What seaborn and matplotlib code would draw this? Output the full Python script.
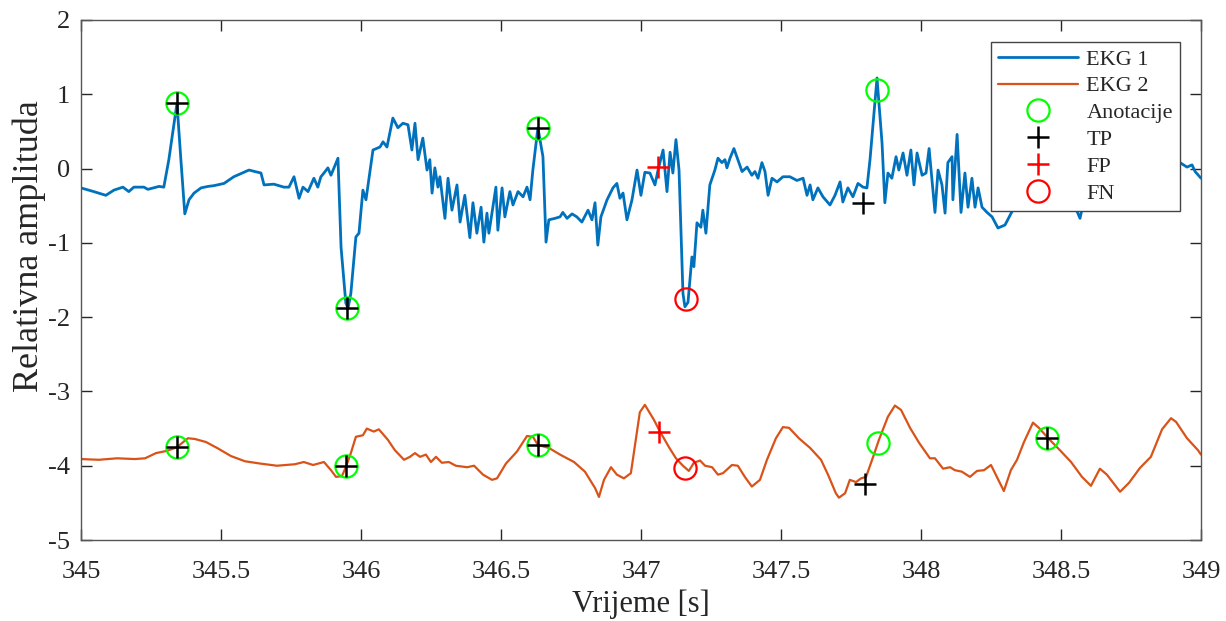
import matplotlib
matplotlib.use("Agg")
import matplotlib.pyplot as plt
from matplotlib.lines import Line2D
import pandas as pd
import seaborn as sns

# EKG 1 (top trace)
ekg1_t = [345.000, 345.046, 345.089, 345.118, 345.150, 345.171, 345.189, 345.225, 345.239, 345.279,
          345.296, 345.314, 345.343, 345.357, 345.371, 345.386, 345.404, 345.429, 345.454, 345.475,
          345.511, 345.546, 345.600, 345.643, 345.654, 345.689, 345.725, 345.743, 345.761, 345.779,
          345.793, 345.811, 345.832, 345.846, 345.857, 345.868, 345.882, 345.893, 345.918, 345.929,
          345.946, 345.954, 345.964, 345.982, 345.993, 346.007, 346.018, 346.043, 346.068, 346.079,
          346.093, 346.114, 346.132, 346.150, 346.168, 346.182, 346.193, 346.204, 346.221, 346.236,
          346.246, 346.254, 346.264, 346.275, 346.282, 346.300, 346.311, 346.325, 346.343, 346.354,
          346.371, 346.389, 346.400, 346.414, 346.429, 346.439, 346.450, 346.457, 346.471, 346.482,
          346.489, 346.504, 346.514, 346.532, 346.543, 346.561, 346.579, 346.593, 346.604, 346.614,
          346.632, 346.650, 346.661, 346.671, 346.693, 346.711, 346.721, 346.736, 346.754, 346.771,
          346.789, 346.811, 346.825, 346.836, 346.846, 346.857, 346.879, 346.900, 346.914, 346.925,
          346.936, 346.950, 346.968, 346.986, 347.000, 347.014, 347.032, 347.050, 347.061, 347.079,
          347.093, 347.104, 347.114, 347.125, 347.136, 347.150, 347.157, 347.168, 347.182, 347.189,
          347.200, 347.214, 347.221, 347.232, 347.246, 347.264, 347.275, 347.289, 347.300, 347.307,
          347.318, 347.332, 347.346, 347.361, 347.379, 347.396, 347.407, 347.418, 347.432, 347.443,
          347.454, 347.468, 347.486, 347.507, 347.532, 347.557, 347.579, 347.593, 347.604, 347.614,
          347.632, 347.650, 347.675, 347.693, 347.711, 347.721, 347.739, 347.757, 347.775, 347.793,
          347.807, 347.818, 347.843, 347.861, 347.871, 347.882, 347.896, 347.911, 347.921, 347.936,
          347.950, 347.964, 347.975, 347.986, 348.004, 348.018, 348.029, 348.050, 348.061, 348.075,
          348.086, 348.096, 348.111, 348.114, 348.129, 348.143, 348.157, 348.168, 348.182, 348.193,
          348.204, 348.218, 348.236, 348.254, 348.275, 348.300, 348.336, 348.389, 348.461, 348.532,
          348.568, 348.589, 348.675, 348.782, 348.889, 348.925, 348.950, 348.968, 348.979, 349.000]
ekg1_y = [-0.26, -0.31, -0.36, -0.29, -0.25, -0.31, -0.25, -0.25, -0.28, -0.24,
          -0.25, 0.12, 0.88, 0.12, -0.61, -0.42, -0.33, -0.26, -0.24, -0.23,
          -0.20, -0.11, -0.02, -0.06, -0.22, -0.21, -0.25, -0.25, -0.11, -0.40,
          -0.25, -0.31, -0.13, -0.25, -0.11, -0.06, 0.01, -0.09, 0.14, -1.06,
          -1.81, -1.88, -1.68, -0.92, -0.87, -0.29, -0.42, 0.25, 0.29, 0.36,
          0.29, 0.68, 0.55, 0.61, 0.59, 0.25, 0.61, 0.12, 0.41, -0.02,
          0.12, -0.33, 0.01, -0.25, -0.11, -0.67, -0.13, -0.56, -0.22, -0.72,
          -0.36, -0.93, -0.46, -0.87, -0.52, -0.99, -0.60, -0.87, -0.52, -0.25,
          -0.83, -0.26, -0.65, -0.31, -0.49, -0.31, -0.38, -0.25, -0.42, -0.02,
          0.55, 0.16, -0.99, -0.69, -0.67, -0.65, -0.59, -0.67, -0.61, -0.65,
          -0.72, -0.56, -0.69, -0.46, -1.03, -0.65, -0.42, -0.26, -0.20, -0.40,
          -0.33, -0.69, -0.42, -0.02, -0.36, -0.05, -0.06, -0.22, -0.02, 0.25,
          -0.31, 0.22, -0.06, 0.39, -0.02, -1.68, -1.86, -1.80, -1.19, -1.32,
          -0.73, -0.79, -0.56, -0.87, -0.22, -0.02, 0.14, 0.08, 0.12, 0.01,
          0.14, 0.27, 0.12, -0.04, 0.02, -0.09, -0.04, -0.13, 0.08, -0.04,
          -0.36, -0.13, -0.18, -0.11, -0.11, -0.16, -0.13, -0.36, -0.22, -0.42,
          -0.26, -0.38, -0.49, -0.36, -0.18, -0.45, -0.26, -0.38, -0.20, -0.25,
          -0.26, 0.12, 1.22, 0.34, -0.46, -0.06, -0.13, 0.16, -0.02, 0.21,
          -0.09, 0.25, -0.22, 0.21, -0.09, -0.06, 0.27, -0.59, -0.02, -0.22,
          -0.60, 0.08, 0.16, -0.42, 0.46, -0.59, -0.06, -0.52, -0.13, -0.52,
          -0.26, -0.52, -0.59, -0.65, -0.80, -0.76, -0.50, -0.35, -0.30, -0.35,
          -0.67, -0.30, -0.15, -0.05, 0.05, 0.08, 0.02, 0.05, -0.04, -0.13]

# EKG 2 (bottom trace)
ekg2_t = [345.000, 345.064, 345.129, 345.193, 345.229, 345.268, 345.307, 345.343, 345.382, 345.407,
          345.446, 345.486, 345.536, 345.586, 345.639, 345.700, 345.764, 345.796, 345.829, 345.868,
          345.893, 345.911, 345.932, 345.946, 345.964, 345.982, 346.007, 346.021, 346.046, 346.064,
          346.096, 346.121, 346.154, 346.175, 346.193, 346.211, 346.232, 346.250, 346.268, 346.289,
          346.314, 346.339, 346.379, 346.404, 346.436, 346.468, 346.486, 346.518, 346.557, 346.593,
          346.614, 346.632, 346.671, 346.711, 346.761, 346.800, 346.836, 346.850, 346.868, 346.893,
          346.914, 346.939, 346.964, 346.996, 347.014, 347.046, 347.068, 347.100, 347.125, 347.150,
          347.171, 347.189, 347.211, 347.229, 347.254, 347.275, 347.293, 347.325, 347.346, 347.371,
          347.396, 347.425, 347.450, 347.482, 347.507, 347.529, 347.564, 347.604, 347.643, 347.668,
          347.696, 347.707, 347.729, 347.746, 347.768, 347.786, 347.804, 347.832, 347.850, 347.882,
          347.907, 347.929, 347.961, 347.993, 348.032, 348.050, 348.079, 348.104, 348.121, 348.146,
          348.175, 348.200, 348.225, 348.250, 348.271, 348.296, 348.321, 348.343, 348.368, 348.400,
          348.421, 348.457, 348.496, 348.536, 348.575, 348.607, 348.639, 348.664, 348.711, 348.743,
          348.782, 348.821, 348.861, 348.893, 348.911, 348.950, 348.989, 349.000]
ekg2_y = [-3.91, -3.92, -3.90, -3.91, -3.90, -3.83, -3.80, -3.75, -3.63, -3.64,
          -3.68, -3.76, -3.87, -3.94, -3.97, -4.00, -3.98, -3.95, -3.99, -3.95,
          -4.06, -4.15, -4.14, -4.02, -3.83, -3.61, -3.59, -3.50, -3.54, -3.51,
          -3.65, -3.79, -3.92, -3.88, -3.83, -3.88, -3.85, -3.95, -3.88, -3.96,
          -3.95, -4.00, -4.02, -4.00, -4.12, -4.19, -4.17, -3.97, -3.81, -3.60,
          -3.61, -3.72, -3.76, -3.85, -3.95, -4.08, -4.30, -4.42, -4.19, -4.02,
          -4.12, -4.17, -4.10, -3.28, -3.18, -3.38, -3.54, -3.75, -3.90, -4.00,
          -4.07, -3.96, -3.93, -4.00, -4.02, -4.12, -4.10, -3.99, -4.00, -4.15,
          -4.28, -4.19, -3.92, -3.63, -3.48, -3.49, -3.63, -3.76, -3.92, -4.12,
          -4.37, -4.43, -4.37, -4.19, -4.22, -4.17, -4.15, -3.85, -3.65, -3.34,
          -3.19, -3.25, -3.49, -3.69, -3.90, -3.90, -4.04, -4.02, -4.06, -4.08,
          -4.15, -4.07, -4.06, -3.99, -4.15, -4.34, -4.06, -3.92, -3.68, -3.42,
          -3.49, -3.64, -3.79, -3.95, -4.15, -4.27, -4.04, -4.12, -4.35, -4.23,
          -4.03, -3.88, -3.51, -3.36, -3.41, -3.63, -3.79, -3.85]

# annotations and detections
ann_t = [345.343, 345.950, 346.632, 347.843, 345.343, 345.946, 346.632, 347.846, 348.450]
ann_y = [0.88, -1.88, 0.55, 1.06, -3.75, -4.00, -3.72, -3.69, -3.63]
tp_t = [345.343, 345.950, 346.632, 347.793, 345.343, 345.946, 346.632, 347.800, 348.450]
tp_y = [0.88, -1.88, 0.55, -0.46, -3.75, -4.00, -3.72, -4.24, -3.63]
fp_t = [347.061, 347.064]
fp_y = [0.02, -3.54]
fn_t = [347.161, 347.157]
fn_y = [-1.76, -4.03]

x_ticks = [345, 345.5, 346, 346.5, 347, 347.5, 348, 348.5, 349]
x_labels = ["345", "345.5", "346", "346.5", "347", "347.5", "348", "348.5", "349"]
y_ticks = [-5, -4, -3, -2, -1, 0, 1, 2]

BLUE = "#0072BD"
ORANGE = "#D95319"
GREEN = "#00FF00"
RED = "#FF0000"
AXC = "#262626"

sns.set_theme(style="ticks")
plt.rcParams["font.family"] = ["Liberation Serif", "DejaVu Serif"]
plt.rcParams["axes.unicode_minus"] = False

fig = plt.figure(figsize=(12.26, 6.21), dpi=100)
ax = fig.add_axes([0.066, 0.1304, 0.9136, 0.8374])

df1 = pd.DataFrame({"t": ekg1_t, "y": ekg1_y})
df2 = pd.DataFrame({"t": ekg2_t, "y": ekg2_y})
sns.lineplot(data=df1, x="t", y="y", color=BLUE, linewidth=2.0, sort=False, ax=ax)
sns.lineplot(data=df2, x="t", y="y", color=ORANGE, linewidth=1.6, sort=False, ax=ax)

ms = 16
ax.plot(ann_t, ann_y, linestyle="none", marker="o", markersize=ms, markerfacecolor="none",
        markeredgecolor=GREEN, markeredgewidth=1.6)
ax.plot(tp_t, tp_y, linestyle="none", marker="+", markersize=ms, color="black", markeredgewidth=1.8)
ax.plot(fp_t, fp_y, linestyle="none", marker="+", markersize=ms, color=RED, markeredgewidth=1.8)
ax.plot(fn_t, fn_y, linestyle="none", marker="o", markersize=ms, markerfacecolor="none",
        markeredgecolor=RED, markeredgewidth=1.6)

ax.set_xlim(345, 349)
ax.set_ylim(-5, 2)
ax.set_xticks(x_ticks)
ax.set_xticklabels(x_labels)
ax.set_yticks(y_ticks)
ax.tick_params(axis="both", which="both", direction="in", length=8, width=1, colors=AXC,
               labelsize=19, top=True, right=True)
ax.tick_params(axis="x", pad=15)
ax.tick_params(axis="y", pad=8)
for s in ax.spines.values():
    s.set_color("#555555")
    s.set_linewidth(1.0)
ax.set_xlabel("Vrijeme [s]", fontsize=22, color=AXC, labelpad=5)
ax.set_ylabel("Relativna amplituda", fontsize=26, color=AXC)
ax.yaxis.set_label_coords(-0.031, 0.565)

handles = [
    Line2D([], [], color=BLUE, linewidth=2.0),
    Line2D([], [], color=ORANGE, linewidth=1.6),
    Line2D([], [], linestyle="none", marker="o", markersize=ms, markerfacecolor="none",
           markeredgecolor=GREEN, markeredgewidth=1.6),
    Line2D([], [], linestyle="none", marker="+", markersize=ms, color="black", markeredgewidth=1.8),
    Line2D([], [], linestyle="none", marker="+", markersize=ms, color=RED, markeredgewidth=1.8),
    Line2D([], [], linestyle="none", marker="o", markersize=ms, markerfacecolor="none",
           markeredgecolor=RED, markeredgewidth=1.6),
]
labels = ["EKG 1", "EKG 2", "Anotacije", "TP", "FP", "FN"]
leg = ax.legend(handles, labels, loc="upper right", bbox_to_anchor=(0.9813, 0.9577),
                borderaxespad=0, fontsize=16, frameon=True, fancybox=False, framealpha=1,
                edgecolor="#444444", handlelength=3.6, handletextpad=0.36, labelspacing=0.28,
                borderpad=0.32)
leg.get_frame().set_linewidth(1.0)

fig.savefig("out.png", dpi=100)
